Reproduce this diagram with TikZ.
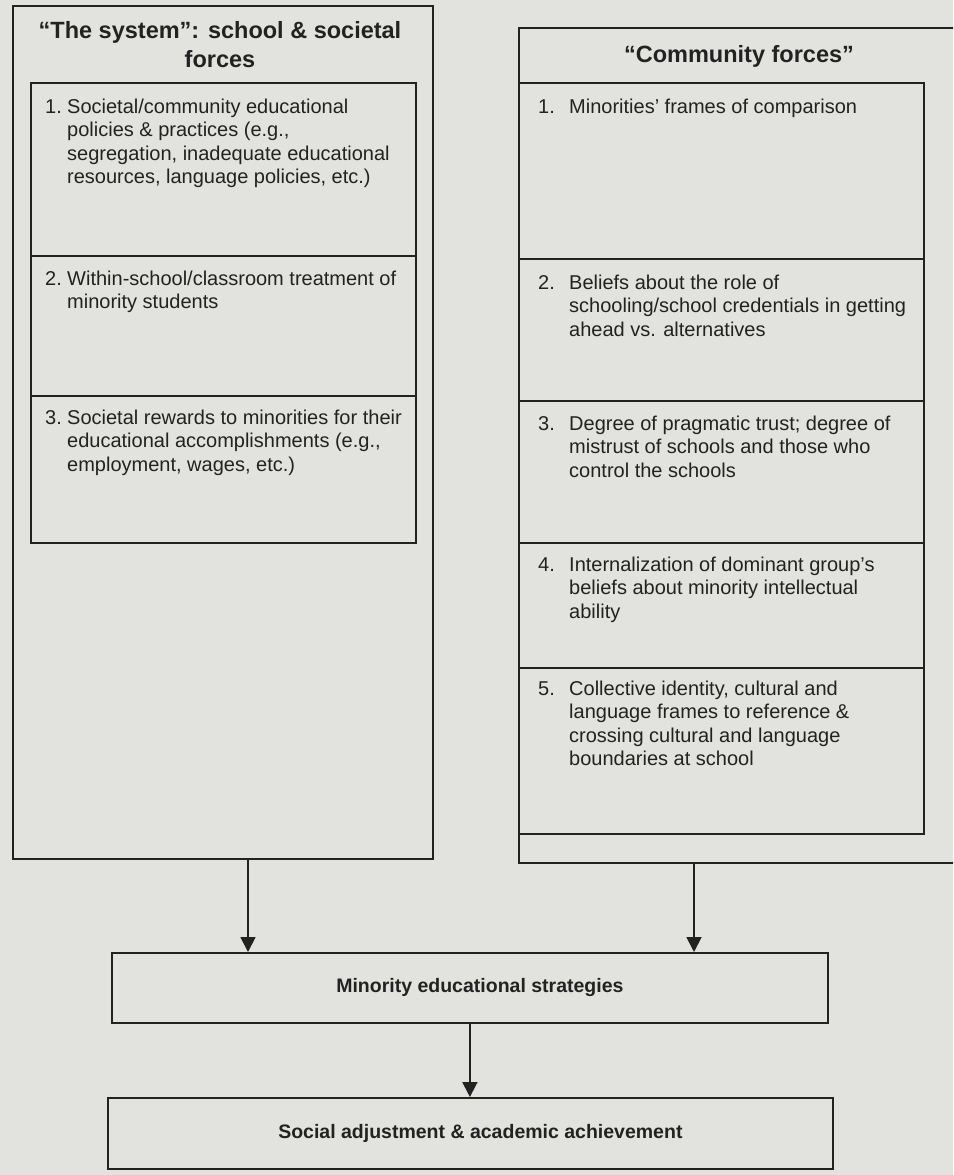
\documentclass[tikz,border=0pt]{standalone}
\usepackage{fontspec}
\setmainfont{Liberation Sans}
\usetikzlibrary{arrows.meta,calc}
\definecolor{paper}{RGB}{226,226,223}
\definecolor{ink}{RGB}{34,34,34}
\newcommand\numlist[3]{\begin{tabular}[t]{@{}l@{}l@{}}\makebox[#1][l]{#2}&#3\end{tabular}}
\begin{document}
\begin{tikzpicture}[x=1pt,y=-1pt,
  box/.style={draw=ink, line width=1.8pt, inner sep=0pt, anchor=north west, rectangle},
  itemtxt/.style={anchor=base west, inner sep=0pt, text=ink, font=\fontsize{20}{23.5}\selectfont},
  hdr/.style={anchor=base, inner sep=0pt, text=ink, font=\bfseries\fontsize{23.5}{29}\selectfont},
  bottxt/.style={text=ink, font=\bfseries\fontsize{19.5}{23}\selectfont},
  arr/.style={draw=ink, line width=1.8pt, -{Triangle[length=15pt,width=15pt]}}]
\path[use as bounding box, fill=paper] (0,0) rectangle (953,1175);
\clip (0,0) rectangle (953,1175);

% left column
\node[box, minimum width=420pt, minimum height=853pt] (lout) at (12,5) {};
\node[hdr] (lhead) at (220,38) {\begin{tabular}[t]{@{}c@{}}“The system”: school \& societal\\forces\end{tabular}};
\node[box, minimum width=385pt, minimum height=173pt] (l1) at (30,82) {};
\node[box, minimum width=385pt, minimum height=140pt] (l2) at (30,255) {};
\node[box, minimum width=385pt, minimum height=147pt] (l3) at (30,395) {};
\node[itemtxt] (t1) at (45,113) {\numlist{22pt}{1.}{Societal/community educational\\&policies \& practices (e.g.,\\&segregation, inadequate educational\\&resources, language policies, etc.)}};
\node[itemtxt] (t2) at (45,285) {\numlist{22pt}{2.}{Within-school/classroom treatment of\\&minority students}};
\node[itemtxt] (t3) at (45,424) {\numlist{22pt}{3.}{Societal rewards to minorities for their\\&educational accomplishments (e.g.,\\&employment, wages, etc.)}};

% right column
\node[box, minimum width=442pt, minimum height=835pt] (rout) at (518,27) {};
\node[hdr] (rhead) at (739,62) {“Community forces”};
\node[box, minimum width=405pt, minimum height=176pt] (r1) at (518,82) {};
\node[box, minimum width=405pt, minimum height=142pt] (r2) at (518,258) {};
\node[box, minimum width=405pt, minimum height=142pt] (r3) at (518,400) {};
\node[box, minimum width=405pt, minimum height=125pt] (r4) at (518,542) {};
\node[box, minimum width=405pt, minimum height=166pt] (r5) at (518,667) {};
\node[itemtxt] (u1) at (538,113) {\numlist{31pt}{1.}{Minorities' frames of comparison}};
\node[itemtxt] (u2) at (538,289) {\numlist{31pt}{2.}{Beliefs about the role of\\&schooling/school credentials in getting\\&ahead vs. alternatives}};
\node[itemtxt] (u3) at (538,430) {\numlist{31pt}{3.}{Degree of pragmatic trust; degree of\\&mistrust of schools and those who\\&control the schools}};
\node[itemtxt] (u4) at (538,571) {\numlist{31pt}{4.}{Internalization of dominant group's\\&beliefs about minority intellectual\\&ability}};
\node[itemtxt] (u5) at (538,695) {\numlist{31pt}{5.}{Collective identity, cultural and\\&language frames to reference \&\\&crossing cultural and language\\&boundaries at school}};

% bottom boxes
\node[box, bottxt, minimum width=716pt, minimum height=70pt] (mb) at (111,952) {\hspace*{20pt}Minority educational strategies};
\node[box, bottxt, minimum width=725pt, minimum height=71pt] (sb) at (107,1097) {\hspace*{20pt}Social adjustment \& academic achievement};

% arrows
\coordinate (la) at (248,0);
\coordinate (ra) at (694,0);
\draw[arr] (la |- lout.south) -- (la |- mb.north);
\draw[arr] (ra |- rout.south) -- (ra |- mb.north);
\draw[arr] (mb.south) -- (mb.south |- sb.north);
\end{tikzpicture}
\end{document}
